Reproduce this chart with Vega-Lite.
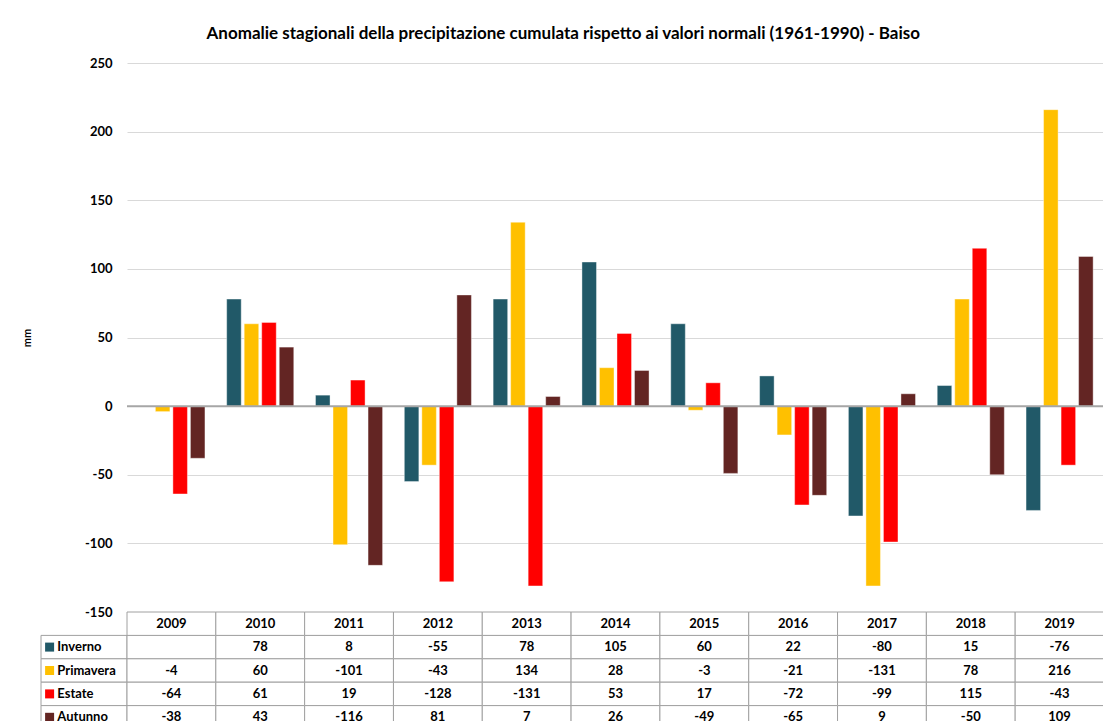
{
  "$schema": "https://vega.github.io/schema/vega-lite/v6.json",
  "datasets": {
    "anom": [
      {"anno": "2009", "stagione": "Inverno", "mm": null},
      {"anno": "2010", "stagione": "Inverno", "mm": 78},
      {"anno": "2011", "stagione": "Inverno", "mm": 8},
      {"anno": "2012", "stagione": "Inverno", "mm": -55},
      {"anno": "2013", "stagione": "Inverno", "mm": 78},
      {"anno": "2014", "stagione": "Inverno", "mm": 105},
      {"anno": "2015", "stagione": "Inverno", "mm": 60},
      {"anno": "2016", "stagione": "Inverno", "mm": 22},
      {"anno": "2017", "stagione": "Inverno", "mm": -80},
      {"anno": "2018", "stagione": "Inverno", "mm": 15},
      {"anno": "2019", "stagione": "Inverno", "mm": -76},
      {"anno": "2009", "stagione": "Primavera", "mm": -4},
      {"anno": "2010", "stagione": "Primavera", "mm": 60},
      {"anno": "2011", "stagione": "Primavera", "mm": -101},
      {"anno": "2012", "stagione": "Primavera", "mm": -43},
      {"anno": "2013", "stagione": "Primavera", "mm": 134},
      {"anno": "2014", "stagione": "Primavera", "mm": 28},
      {"anno": "2015", "stagione": "Primavera", "mm": -3},
      {"anno": "2016", "stagione": "Primavera", "mm": -21},
      {"anno": "2017", "stagione": "Primavera", "mm": -131},
      {"anno": "2018", "stagione": "Primavera", "mm": 78},
      {"anno": "2019", "stagione": "Primavera", "mm": 216},
      {"anno": "2009", "stagione": "Estate", "mm": -64},
      {"anno": "2010", "stagione": "Estate", "mm": 61},
      {"anno": "2011", "stagione": "Estate", "mm": 19},
      {"anno": "2012", "stagione": "Estate", "mm": -128},
      {"anno": "2013", "stagione": "Estate", "mm": -131},
      {"anno": "2014", "stagione": "Estate", "mm": 53},
      {"anno": "2015", "stagione": "Estate", "mm": 17},
      {"anno": "2016", "stagione": "Estate", "mm": -72},
      {"anno": "2017", "stagione": "Estate", "mm": -99},
      {"anno": "2018", "stagione": "Estate", "mm": 115},
      {"anno": "2019", "stagione": "Estate", "mm": -43},
      {"anno": "2009", "stagione": "Autunno", "mm": -38},
      {"anno": "2010", "stagione": "Autunno", "mm": 43},
      {"anno": "2011", "stagione": "Autunno", "mm": -116},
      {"anno": "2012", "stagione": "Autunno", "mm": 81},
      {"anno": "2013", "stagione": "Autunno", "mm": 7},
      {"anno": "2014", "stagione": "Autunno", "mm": 26},
      {"anno": "2015", "stagione": "Autunno", "mm": -49},
      {"anno": "2016", "stagione": "Autunno", "mm": -65},
      {"anno": "2017", "stagione": "Autunno", "mm": 9},
      {"anno": "2018", "stagione": "Autunno", "mm": -50},
      {"anno": "2019", "stagione": "Autunno", "mm": 109}
    ]
  },
  "title": {
    "text": "Anomalie stagionali della precipitazione cumulata rispetto ai valori normali (1961-1990) - Baiso",
    "font": "Lato",
    "fontSize": 17,
    "fontWeight": "bold",
    "color": "#000000",
    "anchor": "middle",
    "offset": 14
  },
  "columns": 2,
  "align": "each",
  "bounds": "flush",
  "spacing": 0,
  "padding": {"left": 21, "top": 25, "right": 0, "bottom": 0},
  "concat": [
    {
      "width": 86,
      "height": 549,
      "data": {"values": [{}]},
      "mark": {"type": "text"},
      "encoding": {"text": {"value": ""}}
    },
    {
      "width": 977,
      "height": 549,
      "layer": [
        {
          "data": {"name": "anom"},
          "mark": {"type": "bar", "stroke": "#ffffff", "strokeOpacity": 0.5, "strokeWidth": 0.8},
          "encoding": {
            "x": {
              "field": "anno",
              "type": "nominal",
              "scale": {"domain": ["2009","2010","2011","2012","2013","2014","2015","2016","2017","2018","2019"], "paddingInner": 0, "paddingOuter": 0},
              "axis": null
            },
            "xOffset": {
              "field": "stagione",
              "type": "nominal",
              "scale": {"domain": ["Inverno", "Primavera", "Estate", "Autunno"], "paddingInner": 0.17, "paddingOuter": 0.62}
            },
            "y": {
              "field": "mm",
              "type": "quantitative",
              "scale": {"domain": [-150, 250], "nice": false, "zero": false},
              "axis": {
                "values": [-150, -100, -50, 0, 50, 100, 150, 200, 250],
                "domain": false,
                "ticks": false,
                "grid": true,
                "gridColor": "#d9d9d9",
                "gridWidth": 1,
                "labelFont": "Lato",
                "labelFontSize": 13,
                "labelFontWeight": "bold",
                "labelColor": "#000000",
                "labelPadding": 15,
                "title": "mm",
                "titleFont": "Lato",
                "titleFontSize": 11,
                "titleFontWeight": "bold",
                "titleColor": "#000000",
                "titlePadding": 52
              }
            },
            "color": {
              "field": "stagione",
              "type": "nominal",
              "scale": {"domain": ["Inverno", "Primavera", "Estate", "Autunno"], "range": ["#215968", "#ffc000", "#ff0000", "#632523"]},
              "legend": null
            }
          }
        },
        {
          "data": {"values": [{}]},
          "mark": {"type": "rule", "color": "#a6a6a6", "strokeWidth": 2},
          "encoding": {"y": {"datum": 0, "type": "quantitative"}}
        }
      ]
    },
    {
      "width": 86,
      "height": 117,
      "data": {"name": "anom"},
      "transform": [{"filter": "datum.anno === '2009'"}],
      "layer": [
        {
          "mark": {"type": "rect", "fill": "#ffffff", "stroke": "#a0a0a0", "strokeWidth": 1},
          "encoding": {
            "x": {"datum": "c", "type": "nominal", "scale": {"type": "band", "paddingInner": 0, "paddingOuter": 0}, "axis": null},
            "y": {"field": "stagione", "type": "nominal", "scale": {"domain": ["Anno", "Inverno", "Primavera", "Estate", "Autunno"], "paddingInner": 0, "paddingOuter": 0}, "axis": null}
          }
        },
        {
          "mark": {"type": "point", "shape": "square", "filled": true, "size": 81, "opacity": 1},
          "encoding": {
            "x": {"datum": "c", "type": "nominal", "bandPosition": 0.1},
            "y": {"field": "stagione", "type": "nominal"},
            "color": {
              "field": "stagione",
              "type": "nominal",
              "scale": {"domain": ["Inverno", "Primavera", "Estate", "Autunno"], "range": ["#215968", "#ffc000", "#ff0000", "#632523"]},
              "legend": null
            }
          }
        },
        {
          "mark": {"type": "text", "align": "left", "baseline": "middle", "font": "Lato", "fontSize": 13, "fontWeight": "bold", "color": "#000000"},
          "encoding": {
            "x": {"datum": "c", "type": "nominal", "bandPosition": 0.19},
            "y": {"field": "stagione", "type": "nominal"},
            "text": {"field": "stagione", "type": "nominal"}
          }
        }
      ]
    },
    {
      "width": 977,
      "height": 117,
      "data": {"name": "anom"},
      "layer": [
        {
          "mark": {"type": "rect", "fill": "#ffffff", "stroke": "#a0a0a0", "strokeWidth": 1},
          "encoding": {
            "x": {
              "field": "anno",
              "type": "nominal",
              "scale": {"domain": ["2009","2010","2011","2012","2013","2014","2015","2016","2017","2018","2019"], "paddingInner": 0, "paddingOuter": 0},
              "axis": null
            },
            "y": {"field": "stagione", "type": "nominal", "scale": {"domain": ["Anno", "Inverno", "Primavera", "Estate", "Autunno"], "paddingInner": 0, "paddingOuter": 0}, "axis": null}
          }
        },
        {
          "transform": [{"filter": "datum.stagione === 'Inverno'"}],
          "mark": {"type": "rect", "fill": "#ffffff", "stroke": "#a0a0a0", "strokeWidth": 1},
          "encoding": {
            "x": {"field": "anno", "type": "nominal"},
            "y": {"datum": "Anno", "type": "nominal"}
          }
        },
        {
          "transform": [{"filter": "isValid(datum.mm)"}],
          "mark": {"type": "text", "align": "center", "baseline": "middle", "font": "Lato", "fontSize": 13, "fontWeight": "bold", "color": "#000000"},
          "encoding": {
            "x": {"field": "anno", "type": "nominal"},
            "y": {"field": "stagione", "type": "nominal"},
            "text": {"field": "mm", "type": "quantitative", "format": "d"}
          }
        },
        {
          "transform": [{"filter": "datum.stagione === 'Inverno'"}],
          "mark": {"type": "text", "align": "center", "baseline": "middle", "font": "Lato", "fontSize": 13, "fontWeight": "bold", "color": "#000000"},
          "encoding": {
            "x": {"field": "anno", "type": "nominal"},
            "y": {"datum": "Anno", "type": "nominal"},
            "text": {"field": "anno", "type": "nominal"}
          }
        }
      ]
    }
  ],
  "config": {
    "view": {"stroke": null},
    "font": "Lato",
    "background": "#ffffff",
    "locale": {
      "number": {"decimal": ".", "thousands": ",", "grouping": [3], "currency": ["", ""], "minus": "-"}
    }
  }
}
